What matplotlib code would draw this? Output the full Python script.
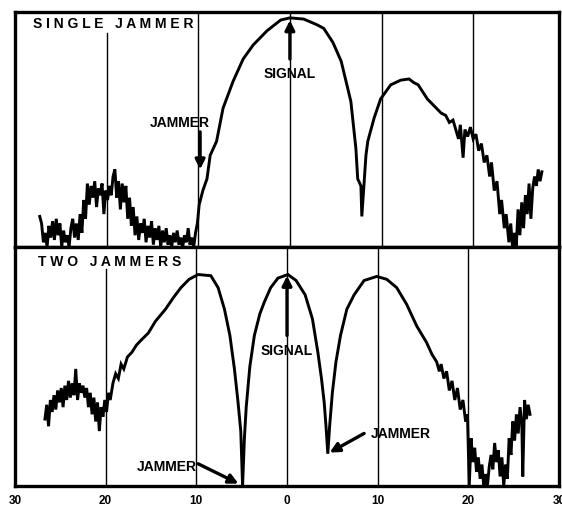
import matplotlib
matplotlib.use("Agg")
import matplotlib.pyplot as plt

# angle (deg) and relative response, single jammer case
top_x = [-27.3, -27.1, -26.9, -26.7, -26.5, -26.3, -26.1, -25.9, -25.7, -25.5,
         -25.3, -25.1, -24.9, -24.7, -24.5, -24.3, -24.1, -23.9, -23.7, -23.5,
         -23.3, -23.1, -22.9, -22.7, -22.5, -22.3, -22.1, -21.9, -21.7, -21.5,
         -21.3, -21.1, -20.9, -20.7, -20.5, -20.3, -20.1, -19.9, -19.7, -19.5,
         -19.3, -19.1, -18.9, -18.7, -18.5, -18.3, -18.1, -17.9, -17.7, -17.5,
         -17.3, -17.1, -16.9, -16.7, -16.5, -16.3, -16.1, -15.9, -15.7, -15.5,
         -15.3, -15.1, -14.9, -14.7, -14.5, -14.3, -14.1, -13.9, -13.7, -13.5,
         -13.3, -13.1, -12.9, -12.7, -12.5, -12.3, -12.1, -11.9, -11.7, -11.5,
         -11.3, -11.1, -10.9, -10.7, -10.5, -10.3, -10.1, -9.9, -9.5, -9.05,
         -8.7, -8.0, -7.3, -6.2, -5.1, -4.0, -2.5, -1.0, 0.0, 1.5,
         3.0, 3.7, 4.7, 5.6, 6.65, 7.2, 7.4, 7.75, 7.85, 8.3,
         8.5, 9.2, 9.9, 11.0, 12.1, 13.0, 13.5, 14.0, 14.5, 15.0,
         15.5, 16.0, 16.5, 17.0, 17.4, 17.8, 18.1, 18.4, 18.6, 18.9,
         19.1, 19.4, 19.7, 20.0, 20.3, 20.6, 20.9, 21.2, 21.5, 21.8,
         22.0, 22.3, 22.6, 22.9, 23.1, 23.4, 23.6, 23.9, 24.1, 24.3,
         24.5, 24.7, 24.9, 25.1, 25.3, 25.5, 25.7, 25.9, 26.1, 26.3,
         26.5, 26.7, 26.9, 27.1, 27.3, 27.5]
top_y = [0.13, 0.10, 0.02, 0.06, 0.00, 0.09, 0.04, 0.11, 0.03, 0.12,
         0.05, 0.10, 0.00, 0.07, 0.02, 0.05, 0.00, 0.08, 0.12, 0.04,
         0.10, 0.03, 0.14, 0.06, 0.20, 0.12, 0.27, 0.18, 0.26, 0.21,
         0.28, 0.17, 0.25, 0.22, 0.27, 0.14, 0.24, 0.20, 0.26, 0.22,
         0.30, 0.33, 0.21, 0.28, 0.16, 0.27, 0.19, 0.26, 0.12, 0.21,
         0.09, 0.17, 0.05, 0.13, 0.03, 0.10, 0.06, 0.12, 0.02, 0.09,
         0.04, 0.11, 0.01, 0.08, 0.03, 0.09, 0.00, 0.07, 0.02, 0.08,
         0.01, 0.05, 0.00, 0.06, 0.02, 0.07, 0.01, 0.04, 0.00, 0.05,
         0.02, 0.08, 0.01, 0.04, 0.00, 0.06, 0.10, 0.18, 0.24, 0.29,
         0.39, 0.45, 0.59, 0.705, 0.80, 0.86, 0.92, 0.966, 0.975, 0.97,
         0.945, 0.93, 0.87, 0.79, 0.62, 0.42, 0.29, 0.26, 0.13, 0.39,
         0.45, 0.55, 0.63, 0.69, 0.71, 0.715, 0.70, 0.69, 0.66, 0.63,
         0.61, 0.59, 0.57, 0.56, 0.53, 0.54, 0.50, 0.46, 0.52, 0.38,
         0.50, 0.47, 0.51, 0.46, 0.48, 0.41, 0.44, 0.36, 0.39, 0.30,
         0.36, 0.24, 0.28, 0.14, 0.20, 0.08, 0.14, 0.02, 0.10, 0.00,
         0.06, 0.00, 0.16, 0.05, 0.19, 0.08, 0.22, 0.14, 0.27, 0.12,
         0.25, 0.30, 0.26, 0.33, 0.28, 0.32]

# two jammer case
bot_x = [-26.7, -26.5, -26.3, -26.1, -25.9, -25.7, -25.5, -25.3, -25.1, -24.9,
         -24.7, -24.5, -24.3, -24.1, -23.9, -23.7, -23.5, -23.3, -23.1, -22.9,
         -22.7, -22.5, -22.3, -22.1, -21.9, -21.7, -21.5, -21.3, -21.1, -20.9,
         -20.7, -20.5, -20.3, -20.1, -19.9, -19.7, -19.5, -19.2, -18.9, -18.6,
         -18.3, -18.0, -17.6, -17.1, -16.6, -16.1, -15.3, -14.5, -13.4, -12.5,
         -11.7, -10.8, -9.8, -8.4, -7.6, -6.9, -6.3, -5.8, -5.4, -5.1,
         -4.9, -4.7, -4.5, -4.1, -3.6, -3.0, -2.5, -1.8, -1.0, 0.1,
         1.0, 2.0, 2.8, 3.4, 3.8, 4.1, 4.3, 4.5, 4.7, 5.0,
         5.4, 5.9, 6.6, 7.4, 8.5, 9.9, 11.0, 12.1, 13.2, 14.3,
         15.4, 16.0, 16.5, 16.8, 17.0, 17.3, 17.6, 17.9, 18.2, 18.5,
         18.8, 19.1, 19.4, 19.7, 19.9, 20.1, 20.3, 20.5, 20.7, 20.9,
         21.1, 21.3, 21.5, 21.7, 21.9, 22.1, 22.3, 22.5, 22.7, 22.9,
         23.1, 23.3, 23.5, 23.7, 23.9, 24.1, 24.3, 24.5, 24.7, 24.9,
         25.1, 25.3, 25.5, 25.7, 25.9, 26.0, 26.2, 26.4, 26.6, 26.8]
bot_y = [0.28, 0.34, 0.25, 0.36, 0.31, 0.38, 0.32, 0.40, 0.35, 0.41,
         0.33, 0.42, 0.36, 0.44, 0.37, 0.43, 0.38, 0.49, 0.36, 0.43,
         0.39, 0.42, 0.37, 0.41, 0.33, 0.39, 0.30, 0.37, 0.27, 0.35,
         0.23, 0.33, 0.29, 0.36, 0.31, 0.39, 0.36, 0.43, 0.47, 0.45,
         0.51, 0.49, 0.54, 0.56, 0.59, 0.61, 0.64, 0.69, 0.74, 0.79,
         0.83, 0.865, 0.885, 0.88, 0.83, 0.74, 0.63, 0.49, 0.35, 0.23,
         0.00, 0.20, 0.33, 0.50, 0.63, 0.72, 0.77, 0.83, 0.87, 0.885,
         0.86, 0.80, 0.70, 0.56, 0.45, 0.35, 0.25, 0.135, 0.25, 0.39,
         0.52, 0.63, 0.74, 0.80, 0.86, 0.877, 0.865, 0.83, 0.76, 0.67,
         0.60, 0.55, 0.52, 0.48, 0.51, 0.45, 0.48, 0.40, 0.44, 0.36,
         0.41, 0.32, 0.36, 0.27, 0.30, 0.00, 0.20, 0.10, 0.16, 0.06,
         0.12, 0.03, 0.09, 0.00, 0.05, 0.00, 0.08, 0.13, 0.07, 0.18,
         0.10, 0.15, 0.04, 0.12, 0.00, 0.09, 0.03, 0.20, 0.13, 0.27,
         0.19, 0.30, 0.22, 0.33, 0.26, 0.04, 0.36, 0.28, 0.34, 0.30]

ticks = [-30, -20, -10, 0, 10, 20, 30]
tick_labels = ['30', '20', '10', '0', '10', '20', '30']
grid_x = [-20, -10, 0, 10, 20]

plt.rcParams['font.family'] = ['Liberation Sans', 'DejaVu Sans']
plt.rcParams['font.weight'] = 'bold'

fig = plt.figure(figsize=(5.62, 5.06), dpi=100)
ax1 = fig.add_axes([0.0267, 0.5099, 0.968, 0.4644])
ax2 = fig.add_axes([0.0267, 0.0375, 0.968, 0.4723])

for ax in (ax1, ax2):
    ax.set_xlim(-30, 29.37)
    ax.set_ylim(0, 1)
    ax.set_yticks([])
    for sp in ax.spines.values():
        sp.set_linewidth(2.4)
    for gx in grid_x:
        top = 0.91 if gx == -20 else 1.0
        ax.axvline(gx, ymin=0, ymax=top, color='k', lw=1.0, zorder=1)

ax1.set_xticks([])
ax2.set_xticks(ticks)
ax2.set_xticklabels(tick_labels, fontsize=8.5, fontweight='bold')
ax2.tick_params(axis='x', length=0, pad=6)

ax1.plot(top_x, top_y, color='k', lw=2.1, zorder=3, solid_joinstyle='miter')
ax2.plot(bot_x, bot_y, color='k', lw=2.1, zorder=3, solid_joinstyle='miter')

# panel titles (letter-spaced like the original lettering)
ax1.text(0.033, 0.953, 'S I N G L E   J A M M E R', transform=ax1.transAxes,
         fontsize=10, fontweight='heavy', va='center', ha='left')
ax2.text(0.042, 0.94, 'T W O   J A M M E R S', transform=ax2.transAxes,
         fontsize=10, fontweight='heavy', va='center', ha='left')

arrow = dict(arrowstyle='-|>', lw=2.4, color='k', mutation_scale=14,
             shrinkA=0, shrinkB=0)

# single jammer annotations
ax1.text(-12.0, 0.53, 'JAMMER', fontsize=10, fontweight='bold', ha='center', va='center')
ax1.annotate('', xy=(-9.8, 0.33), xytext=(-9.8, 0.49), arrowprops=arrow)
ax1.text(0, 0.74, 'SIGNAL', fontsize=10, fontweight='bold', ha='center', va='center')
ax1.annotate('', xy=(0, 0.965), xytext=(0, 0.80), arrowprops=arrow)

# two jammer annotations
ax2.text(0, 0.57, 'SIGNAL', fontsize=10, fontweight='bold', ha='center', va='center')
ax2.annotate('', xy=(0, 0.88), xytext=(0, 0.63), arrowprops=arrow)
ax2.text(-13.3, 0.085, 'JAMMER', fontsize=10, fontweight='bold', ha='center', va='center')
ax2.annotate('', xy=(-5.35, 0.01), xytext=(-9.8, 0.093), arrowprops=arrow)
ax2.text(12.5, 0.22, 'JAMMER', fontsize=10, fontweight='bold', ha='center', va='center')
ax2.annotate('', xy=(4.7, 0.14), xytext=(8.5, 0.22), arrowprops=arrow)

fig.savefig('out.png', dpi=100)
